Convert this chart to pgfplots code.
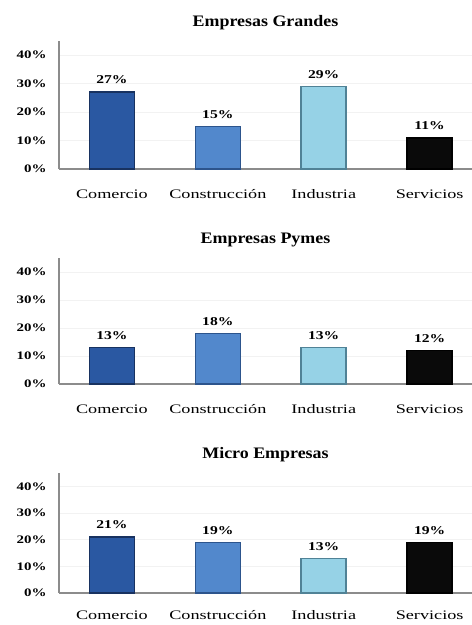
\documentclass[border=0pt]{standalone}
\usepackage{fontspec}
\setmainfont{Liberation Serif}[FakeStretch=1.12]
\newfontfamily\labelfont{Liberation Serif}[FakeStretch=1.3]
\newfontfamily\catfont{Liberation Serif}[FakeStretch=1.4]
\usepackage{pgfplots}
\pgfplotsset{compat=1.18}

\definecolor{comfill}{RGB}{42,88,162}
\definecolor{comedge}{RGB}{24,50,96}
\definecolor{confill}{RGB}{82,136,204}
\definecolor{conedge}{RGB}{44,84,140}
\definecolor{indfill}{RGB}{150,210,230}
\definecolor{indedge}{RGB}{80,130,150}
\definecolor{serfill}{RGB}{10,10,10}
\definecolor{seredge}{RGB}{0,0,0}
\definecolor{axisgray}{RGB}{140,140,140}

\pgfplotsset{
  panel/.style={
    anchor=south west,
    scale only axis,
    width=413pt, height=126pt,
    xmin=-0.5, xmax=3.4,
    ymin=0, ymax=45,
    ybar, bar width=45pt, bar shift=0pt,
    axis x line*=bottom, axis y line*=left,
    axis line style={-, draw=axisgray, line width=1.1pt},
    major tick length=0pt,
    ytick={0,10,20,30,40},
    yticklabel={\pgfmathprintnumber{\tick}\%},
    /pgf/number format/assume math mode=true,
    yticklabel style={font=\labelfont\bfseries\fontsize{11.5}{12}\selectfont, xshift=-9pt},
    xtick={0,1,2,3},
    xticklabels={Comercio,Construcción,Industria,Servicios},
    xticklabel style={font=\catfont\fontsize{13}{14}\selectfont, yshift=-17pt},
    ymajorgrids, grid style={gray!10, line width=0.6pt},
    title style={font=\bfseries\fontsize{16}{17}\selectfont, yshift=2pt},
    nodes near coords={\pgfmathprintnumber{\pgfplotspointmeta}\%},
    nodes near coords style={font=\labelfont\bfseries\fontsize{12}{13}\selectfont, yshift=4pt},
    clip=false,
  },
  bcom/.style={fill=comfill, draw=comedge, line width=1.6pt},
  bcon/.style={fill=confill, draw=conedge, line width=1.6pt},
  bind/.style={fill=indfill, draw=indedge, line width=1.6pt},
  bser/.style={fill=serfill, draw=seredge, line width=1.6pt},
}

\begin{document}
\begin{tikzpicture}[x=1pt,y=1pt]
\path[use as bounding box] (0,0) rectangle (472,625);

% Empresas Grandes
\begin{axis}[panel, at={(59pt,456pt)}, height=128pt, title={Empresas Grandes}]
  \addplot[bcom] coordinates {(0,27)};
  \addplot[bcon] coordinates {(1,15)};
  \addplot[bind] coordinates {(2,29)};
  \addplot[bser] coordinates {(3,11)};
\end{axis}

% Empresas Pymes
\begin{axis}[panel, at={(59pt,241pt)}, title={Empresas Pymes}]
  \addplot[bcom] coordinates {(0,13)};
  \addplot[bcon] coordinates {(1,18)};
  \addplot[bind] coordinates {(2,13)};
  \addplot[bser] coordinates {(3,12)};
\end{axis}

% Micro Empresas
\begin{axis}[panel, at={(59pt,32pt)}, height=120pt, title={Micro Empresas},
  xticklabel style={yshift=3pt}]
  \addplot[bcom] coordinates {(0,21)};
  \addplot[bcon] coordinates {(1,19)};
  \addplot[bind] coordinates {(2,13)};
  \addplot[bser] coordinates {(3,19)};
\end{axis}
\end{tikzpicture}
\end{document}
